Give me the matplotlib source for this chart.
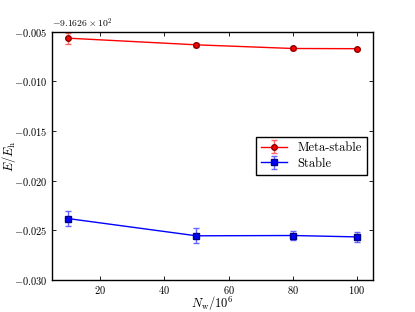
import numpy as np
import matplotlib
matplotlib.use('Agg')
import matplotlib.pyplot as plt
from matplotlib.ticker import ScalarFormatter

plt.rcParams['font.family'] = 'serif'
plt.rcParams['font.serif'] = ['cmr10', 'DejaVu Serif']
plt.rcParams['mathtext.fontset'] = 'cm'
plt.rcParams['axes.formatter.use_mathtext'] = True
plt.rcParams['axes.unicode_minus'] = True
plt.rcParams['font.size'] = 8

# walker numbers (in 10^6)
n_walkers = [10, 50, 80, 100]

# energies (Hartree) and stochastic errors
e_meta = [-916.26564, -916.26631, -916.26668, -916.26670]
err_meta = [0.00057, 0.00020, 0.00012, 0.00010]
e_stable = [-916.28382, -916.28556, -916.28553, -916.28567]
err_stable = [0.00077, 0.00077, 0.00047, 0.00050]

fig = plt.figure(figsize=(4.15, 3.12), dpi=100)
ax = fig.add_axes([0.125, 0.103, 0.774, 0.795])

ax.errorbar(n_walkers, e_meta, yerr=err_meta, fmt='o-', color='red',
            ecolor='#ff6666', mec='#880000', ms=4, lw=1, capsize=2.5,
            elinewidth=1, label='Meta-stable')
ax.errorbar(n_walkers, e_stable, yerr=err_stable, fmt='s-', color='blue',
            ecolor='#6666ff', mec='#000088', ms=4, lw=1, capsize=2.5,
            elinewidth=1, label='Stable')

ax.set_xlim(5, 105)
ax.set_ylim(-916.29, -916.265)
ax.set_xticks([20, 40, 60, 80, 100])
ax.set_yticks(np.arange(-916.29, -916.2649, 0.005))
fmt = ScalarFormatter(useOffset=-916.26, useMathText=True)
ax.yaxis.set_major_formatter(fmt)

ax.tick_params(direction='in', top=True, right=True, length=3, width=0.6,
               labelsize=7.5, pad=3)
ax.yaxis.get_offset_text().set_fontsize(7)
for s in ax.spines.values():
    s.set_linewidth(1.0)

ax.set_xlabel(r'$N_{\rm w}/10^6$', fontsize=9, labelpad=-1)
ax.set_ylabel(r'$E/E_{\rm h}$', fontsize=9)
ax.yaxis.set_label_coords(-0.106, 0.5)

ax.legend(loc='center right', fontsize=9, handlelength=2.1, fancybox=False,
          framealpha=1, edgecolor='black', borderaxespad=0.5,
          labelspacing=0.3, borderpad=0.4)

fig.savefig('out.png', dpi=100)
